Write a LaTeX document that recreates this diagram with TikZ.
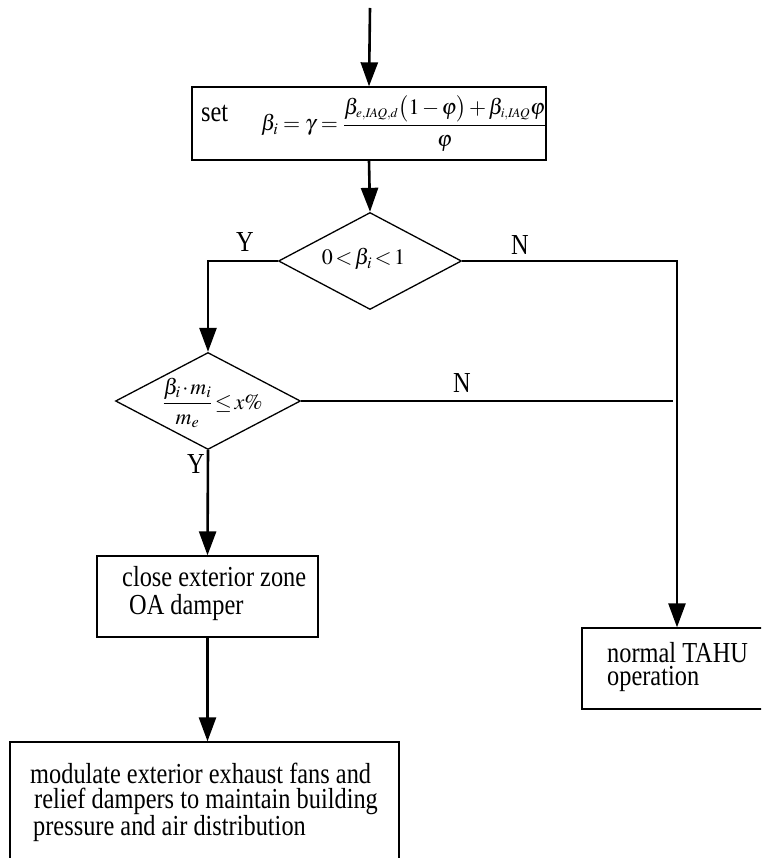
\documentclass[tikz,border=0pt]{standalone}
\usepackage{amsmath}
\usepackage{mathptmx}
\usepackage[no-math]{fontspec}
\setmainfont{Liberation Serif}[FakeStretch=0.84]
\usetikzlibrary{arrows.meta,shapes.geometric}

\newcommand{\tinysub}[1]{{\scriptscriptstyle #1}}
\newcommand{\tightmath}{\thickmuskip=2mu \medmuskip=1.5mu\relax}
\newcommand{\loosemath}{\thickmuskip=4mu \medmuskip=2mu\relax}

\tikzset{
  every node/.style={font=\fontsize{29}{30}\selectfont},
  flow/.style={line width=2.6pt, -{Triangle[length=24pt,width=17pt]}},
  plainline/.style={line width=2.6pt},
  stepbox/.style={draw, line width=1.3pt, rectangle, inner sep=0pt},
  decision/.style={draw, line width=1.3pt, diamond, inner sep=0pt},
  boxtext/.style={inner sep=0pt, anchor=north west, align=left},
  mathtext/.style={inner sep=0pt, font=\fontsize{22}{24}\selectfont},
  yn/.style={inner sep=0pt}
}

\begin{document}
\begin{tikzpicture}[x=1pt,y=-1pt]
  \useasboundingbox (0,0) rectangle (761,858);
  \clip (0,0) rectangle (761,858);

  % entry point of the procedure
  \coordinate (entry) at (370,8);

  % set the recirculation ratio
  \node[stepbox, minimum width=354pt, minimum height=73pt] (set) at (369,123.5) {};
  \node[inner sep=0pt, anchor=base west] (settext) at (201,122) {set};
  \node[mathtext, anchor=west] (setformula) at (261,123.5)
    {$\loosemath\beta_i=\gamma=\dfrac{\beta_{\tinysub{e,\mathit{IAQ},d}}\bigl(1-\varphi\bigr)+\beta_{\tinysub{i,\mathit{IAQ}}}\varphi}{\varphi}$};

  % first test
  \node[decision, minimum width=183pt, minimum height=97pt] (d1) at (370,261) {};
  \node[mathtext, anchor=base] (d1text) at (363.5,265) {$\tightmath 0<\beta_i<1$};

  % second test
  \node[decision, minimum width=185pt, minimum height=97pt] (d2) at (208,401) {};
  \node[mathtext] (d2text) at (212.5,403) {$\tightmath\dfrac{\beta_i\cdot m_i}{m_e}\le x\%$};

  % actions
  \node[stepbox, minimum width=221pt, minimum height=81pt] (close) at (207.5,596.5) {};
  \node[boxtext, font=\fontsize{29}{27.5}\selectfont] (closetext) at (122,566.5)
    {close exterior zone\\\hspace*{7pt}OA damper};

  \node[stepbox, minimum width=190pt, minimum height=81pt] (normal) at (677,668.5) {};
  \node[boxtext, font=\fontsize{29}{23}\selectfont] (normaltext) at (607,642)
    {normal TAHU\\operation};

  \node[stepbox, minimum width=389pt, minimum height=140pt] (modulate) at (204.5,812) {};
  \node[boxtext, font=\fontsize{29}{24.5}\selectfont] (modtext) at (30,763)
    {modulate exterior exhaust fans and\\\hspace*{4pt}relief dampers to maintain building\\\hspace*{3pt}pressure and air distribution};

  % connectors
  \draw[flow] (entry) -- (set.north);
  \draw[flow] (set.south) -- (d1.north);
  \draw[flow] (d1.west) -| (d2.north);
  \draw[flow] (d1.east) -| (normal.north);
  \coordinate (njoin) at (673,401);
  \draw[plainline] (d2.east) -- (njoin);
  \draw[flow] (d2.south) -- (close.north);
  \draw[flow] (close.south) -- (close.south |- modulate.north);

  % branch labels
  \node[yn] (y1) at (245,242) {Y};
  \node[yn] (n1) at (520,245) {N};
  \node[yn] (n2) at (462,383) {N};
  \node[yn] (y2) at (196,464) {Y};
\end{tikzpicture}
\end{document}
